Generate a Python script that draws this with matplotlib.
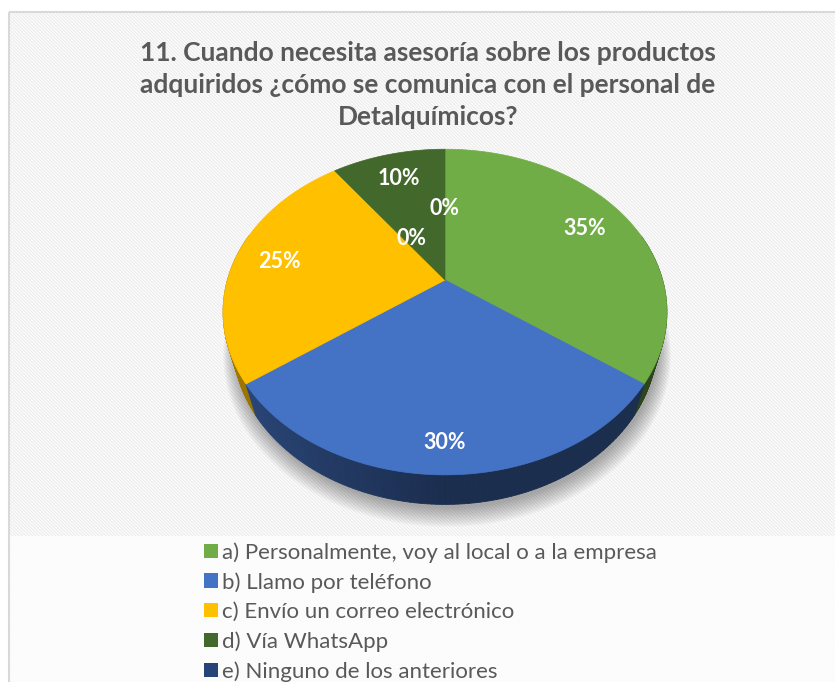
import numpy as np
import matplotlib
matplotlib.use("Agg")
import matplotlib.pyplot as plt
from matplotlib.patches import Polygon, Rectangle, Patch

# datos de la encuesta
categorias = [
    'a) Personalmente, voy al local o a la empresa',
    'b) Llamo por teléfono',
    'c) Envío un correo electrónico',
    'd) Vía WhatsApp',
    'e) Ninguno de los anteriores',
    'f)',
]
valores = [35, 30, 25, 10, 0, 0]
colores = ['#70AD47', '#4472C4', '#FFC000', '#43682B', '#264478', '#9E480E']
titulo = ('11. Cuando necesita asesoría sobre los productos\n'
          'adquiridos ¿cómo se comunica con el personal de\n'
          'Detalquímicos?')

plt.rcParams['font.family'] = ['Lato', 'DejaVu Sans']
plt.rcParams['hatch.linewidth'] = 1.0

W, H = 835, 682
fig = plt.figure(figsize=(W / 100, H / 100), dpi=100)
ax = fig.add_axes([0, 0, 1, 1])
ax.set_xlim(0, W)
ax.set_ylim(H, 0)
ax.axis('off')

# fondo con rayas diagonales
ax.add_patch(Rectangle((9, 12), W, H, facecolor='white', edgecolor='#EEEEEE',
                       hatch='\\' * 10, lw=0, zorder=0))
ax.add_patch(Rectangle((9, 536), W, H, facecolor='white', alpha=0.75, lw=0, zorder=0.5))
ax.add_patch(Rectangle((9, 12), W, H, facecolor='none', edgecolor='#D9D9D9', lw=1.5, zorder=1))

# proyección en perspectiva del pastel 3D
cx, cy = 445, 280
S = 217.6
alfa = np.radians(44)
D = 3.53
grosor = 0.225


def proy(x, y, h=0.0):
    up = y * np.cos(alfa) - h * np.sin(alfa)
    prof = y * np.sin(alfa) + h * np.cos(alfa)
    f = D / (D + prof)
    return cx + S * x * f, cy - S * up * f


def oscurecer(color, k):
    r, g, b = matplotlib.colors.to_rgb(color)
    return (r * k, g * k, b * k)


total = sum(valores)
acum = np.concatenate([[0], np.cumsum(valores)]) / total * 360

# sombra
th = np.radians(np.linspace(0, 360, 200))
for i in range(10):
    esc = 1.0 + i * 0.006
    bx, by = proy(np.cos(th) * esc, np.sin(th) * esc, grosor)
    ax.add_patch(Polygon(np.column_stack([bx + 2, by + 4 + i * 0.6]), closed=True,
                         facecolor='black', alpha=0.035, lw=0, zorder=2))

# laterales
quads = []
for k, v in enumerate(valores):
    if v == 0:
        continue
    angs = np.linspace(acum[k], acum[k + 1], max(int(v * 3), 4))
    for a0, a1 in zip(angs[:-1], angs[1:]):
        t0, t1 = np.radians(90 - a0), np.radians(90 - a1)
        tm = (t0 + t1) / 2
        if np.sin(tm) > 0.3:
            continue
        p = [proy(np.cos(t0), np.sin(t0)), proy(np.cos(t1), np.sin(t1)),
             proy(np.cos(t1), np.sin(t1), grosor), proy(np.cos(t0), np.sin(t0), grosor)]
        sombra = 0.40 + 0.25 * max(0.0, -np.cos(tm))
        quads.append((np.sin(tm), p, oscurecer(colores[k], sombra)))
quads.sort(key=lambda q: -q[0])
for _, p, c in quads:
    ax.add_patch(Polygon(p, closed=True, facecolor=c, edgecolor=c, lw=0.6, zorder=3))

# cara superior
for k, v in enumerate(valores):
    if v == 0:
        continue
    angs = np.radians(90 - np.linspace(acum[k], acum[k + 1], max(int(v * 3), 4)))
    xs, ys = proy(np.cos(angs), np.sin(angs))
    pts = np.vstack([[cx, cy], np.column_stack([xs, ys])])
    ax.add_patch(Polygon(pts, closed=True, facecolor=colores[k], edgecolor=colores[k],
                         lw=0.5, zorder=4))

# etiquetas de porcentaje
radio_etq = [0.77, 0.86, 0.79, 0.78, 0.5, 0.32]
giro_etq = [0, 0, 0, 0, 0, -30]
for k, v in enumerate(valores):
    am = (acum[k] + acum[k + 1]) / 2 + giro_etq[k]
    t = np.radians(90 - am)
    lx, ly = proy(radio_etq[k] * np.cos(t), radio_etq[k] * np.sin(t))
    ax.text(lx, ly, f'{v}%', color='white', fontsize=15.5, fontweight='bold',
            ha='center', va='center', zorder=5)

ax.text(428, 85, titulo, ha='center', va='center', fontsize=19, fontweight='bold',
        color='#595959', linespacing=1.42, zorder=5)

manijas = [Patch(facecolor=c) for c in colores[:5]]
fig.legend(manijas, categorias[:5], loc='upper left', bbox_to_anchor=(204 / W, 1 - 542 / H),
           frameon=False, fontsize=16, labelcolor='#595959', handlelength=0.63,
           handleheight=0.63, handletextpad=0.2, labelspacing=0.42, borderpad=0,
           borderaxespad=0)

fig.savefig('out.png', dpi=100)
